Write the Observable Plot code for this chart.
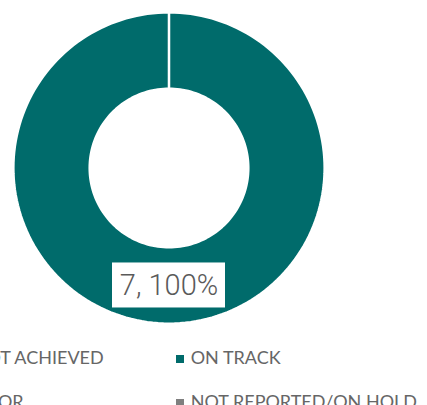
<!DOCTYPE html>
<html>
<head>
<meta charset="utf-8">
<script src="https://cdn.jsdelivr.net/npm/d3@7"></script>
<script src="https://cdn.jsdelivr.net/npm/@observablehq/plot@0.6"></script>
<style>
  html, body { margin: 0; padding: 0; background: #fff; overflow: hidden; }
  #wrap { position: relative; width: 427px; height: 405px; overflow: hidden; }
  #legend { position: absolute; left: 0; top: 0; width: 427px; height: 405px; pointer-events: none; }
  .item { position: absolute; font-family: Lato, "Open Sans", sans-serif; font-size: 18px; line-height: 22px; color: #666; white-space: nowrap; }
  .sw { position: absolute; width: 8px; height: 8px; }
</style>
</head>
<body>
<div id="wrap"><div id="chart"></div><div id="legend"></div></div>
<script>
// ---- data ----
const categories = ["NOT ACHIEVED", "ON TRACK", "POOR", "NOT REPORTED/ON HOLD"];
const counts = [0, 7, 0, 0];
const colors = ["#c0392b", "#006b6b", "#e39b2d", "#7f7f7f"];
const labelText = ["", "7, 100%", "", ""];

const rows = categories.map((c, i) => ({cat: c, count: counts[i], label: labelText[i]}));
const pie = d3.pie().sort(null).value(d => d.count)(rows);

const R_OUT = 1, R_IN = 0.511, STEPS = 180;
const pts = [];
for (const p of pie) {
  const a0 = p.startAngle, a1 = p.endAngle;
  for (let k = 0; k <= STEPS; k++) {
    const a = a0 + (a1 - a0) * k / STEPS;
    pts.push({cat: p.data.cat, x: R_OUT * Math.sin(a), y: R_OUT * Math.cos(a)});
  }
  for (let k = STEPS; k >= 0; k--) {
    const a = a0 + (a1 - a0) * k / STEPS;
    pts.push({cat: p.data.cat, x: R_IN * Math.sin(a), y: R_IN * Math.cos(a)});
  }
}
const rMid = (R_OUT + R_IN) / 2;
const labels = pie.filter(p => p.data.count > 0).map(p => {
  const a = (p.startAngle + p.endAngle) / 2;
  return {x: rMid * Math.sin(a), y: rMid * Math.cos(a), text: p.data.label};
});

const plot = Plot.plot({
  width: 427, height: 335,
  margin: 0,
  x: {domain: [-1, 1], range: [13, 324], axis: null},
  y: {domain: [-1, 1], range: [323, 12], axis: null},
  color: {domain: categories, range: colors},
  marks: [
    Plot.line(pts, {x: "x", y: "y", z: "cat", fill: "cat", stroke: "white", strokeWidth: 2.2, curve: "linear-closed"}),
    // white label box, sized around the label position through the scales
    Plot.rect(labels, {x1: "x", x2: "x", y1: "y", y2: "y", fill: "white",
      insetLeft: -56.5, insetRight: -56.5, insetTop: -22.5, insetBottom: -22.5}),
    Plot.text(labels, {x: "x", y: "y", text: "text", fontSize: 29, fill: "#5a5a5a",
      fontFamily: "Roboto, sans-serif", fontWeight: 300})
  ]
});
document.getElementById("chart").appendChild(plot);

// legend (two columns, left column partly clipped as in the reference)
const legend = document.getElementById("legend");
const colX = [-42, 176], rowTop = [346.3, 389.6];
categories.forEach((c, i) => {
  const col = i % 2, row = Math.floor(i / 2);
  const sw = document.createElement("div");
  sw.className = "sw";
  sw.style.left = colX[col] + "px";
  sw.style.top = (rowTop[row] + 9) + "px";
  sw.style.background = colors[i];
  legend.appendChild(sw);
  const it = document.createElement("div");
  it.className = "item";
  it.style.left = (colX[col] + 14.7) + "px";
  it.style.top = rowTop[row] + "px";
  it.textContent = c;
  legend.appendChild(it);
});
</script>
</body>
</html>
